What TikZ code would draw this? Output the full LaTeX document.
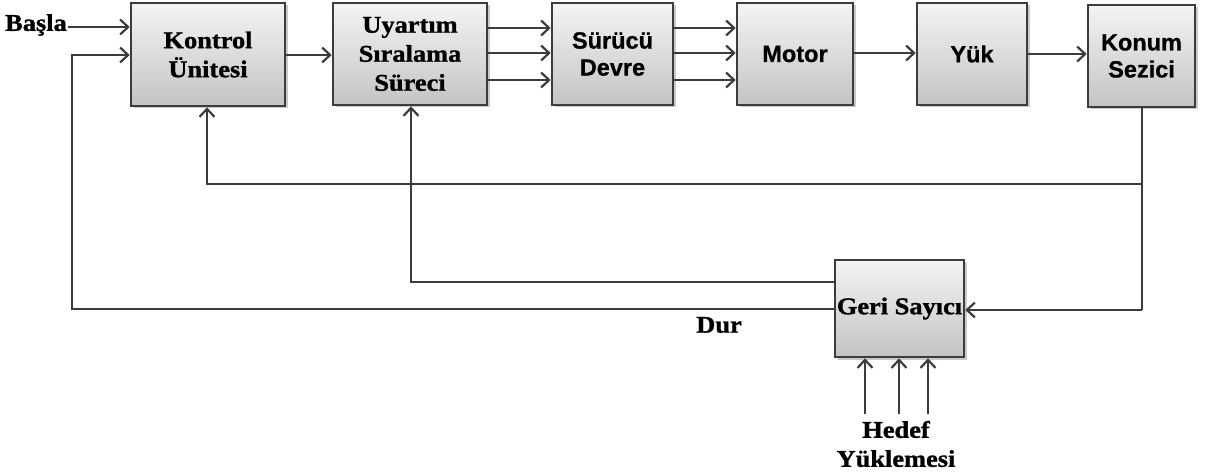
\documentclass[tikz,border=0pt]{standalone}
\usepackage{fontspec}
\setmainfont{Liberation Serif}
\newfontfamily\serifb[FakeStretch=1.1,FakeBold=1.2]{Liberation Serif Bold}
\newfontfamily\sansb[FakeBold=0.8]{Liberation Sans Bold}
\usetikzlibrary{arrows.meta,shadows}
\definecolor{ln}{RGB}{60,60,60}
\definecolor{boxtop}{RGB}{244,244,244}
\definecolor{boxbot}{RGB}{196,196,196}
\tikzset{
  blk/.style={draw=ln, line width=2.6pt, top color=boxtop, bottom color=boxbot,
    drop shadow={shadow xshift=2.5pt, shadow yshift=-2.5pt, fill=black!35, opacity=0.6},
    align=center, inner sep=0pt},
  sertxt/.style={font=\serifb\fontsize{24}{29}\selectfont, text=black},
  santxt/.style={font=\sansb\fontsize{23.5}{27}\selectfont, text=black},
  conn/.style={draw=ln, line width=2.4pt},
  arr/.style={conn, -{Straight Barb[length=8pt,width=15pt,line width=2.2pt]}},
}
\begin{document}
\begin{tikzpicture}[x=1pt,y=-1pt]
\useasboundingbox (0,0) rectangle (1205,473);
% blocks
\node[blk, sertxt, minimum width=154pt, minimum height=103pt] (K) at (208,54.5) {Kontrol\\Ünitesi};
\node[blk, sertxt, minimum width=154pt, minimum height=102pt] (U) at (410,54) {Uyartım\\Sıralama\\Süreci};
\node[blk, santxt, minimum width=121pt, minimum height=102pt] (S) at (612.5,54) {Sürücü\\Devre};
\node[blk, santxt, minimum width=116pt, minimum height=102pt] (M) at (795,54) {Motor};
\node[blk, santxt, minimum width=110pt, minimum height=102pt] (Y) at (972,54) {Yük};
\node[blk, santxt, minimum width=107pt, minimum height=102pt] (KS) at (1141.5,56) {Konum\\Sezici};
\node[blk, sertxt, minimum width=129pt, minimum height=97pt] (G) at (899.5,308.5) {Geri Sayıcı};
% labels
\node[sertxt, anchor=east, inner sep=0pt] (basla) at (67,25) {Başla};
\coordinate (bs) at (68,27);
\node[sertxt, inner sep=0pt] (dur) at (719,325) {Dur};
\node[sertxt, align=center, inner sep=0pt] (hedef) at (896,444) {Hedef\\Yüklemesi};
% forward path
\draw[arr] (bs) -- (K.west |- bs);
\draw[arr] (K.east |- 0,55) -- (U.west |- 0,55);
\foreach \yy in {28,53,80} {
  \draw[arr] (U.east |- 0,\yy) -- (S.west |- 0,\yy);
  \draw[arr] (S.east |- 0,\yy) -- (M.west |- 0,\yy);
}
\draw[arr] (M.east |- 0,53) -- (Y.west |- 0,53);
\draw[arr] (Y.east |- 0,54) -- (KS.west |- 0,54);
% feedback
\coordinate (ksd) at (KS.south -| 1142,0);
\coordinate (br) at (1142,184);
\draw[conn] (ksd) -- (1142,310) coordinate (gr);
\draw[arr] (gr) -- (G.east |- gr);
\draw[arr] (br) -- (207,184) coordinate (fb) -- (fb |- K.south);
\draw[arr] (G.west |- 0,282) -- (411,282) coordinate (ub) -- (ub |- U.south);
\draw[arr] (G.west |- 0,309) -- (72,309) coordinate (kb) -- (72,55) coordinate (kt) -- (K.west |- kt);
% Hedef inputs
\foreach \xx in {865,899,928} {
  \draw[arr] (\xx,414) -- (\xx,0 |- G.south);
}
\end{tikzpicture}
\end{document}
